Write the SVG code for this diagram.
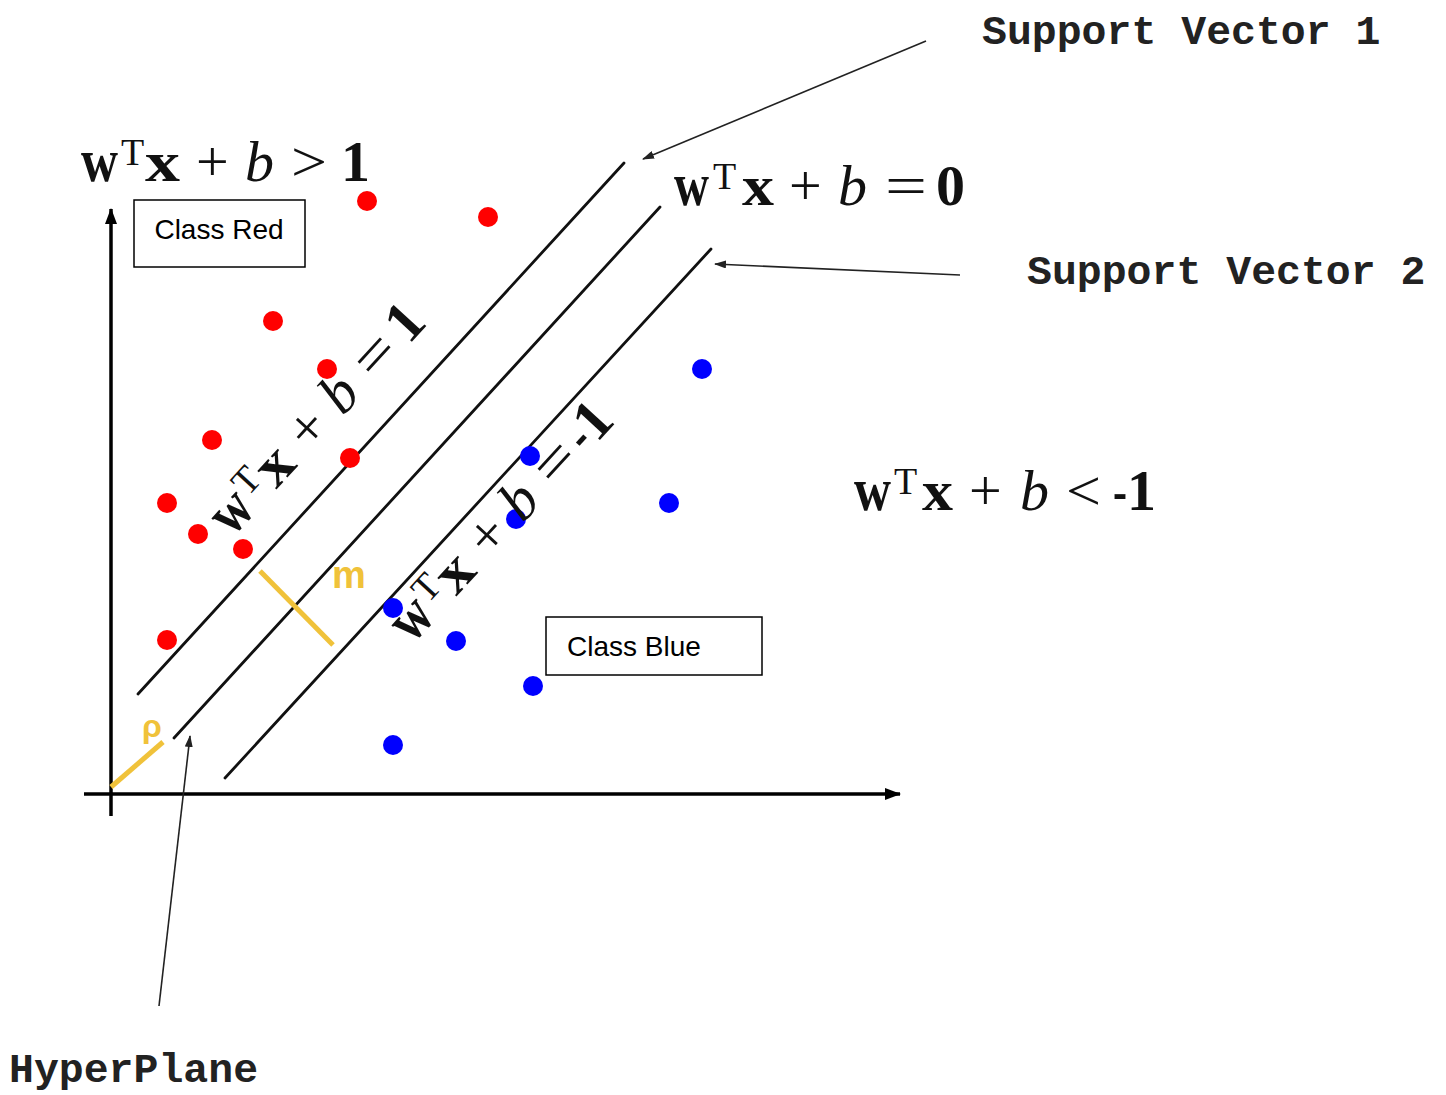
<svg xmlns="http://www.w3.org/2000/svg" width="1446" height="1095" viewBox="0 0 1446 1095">
  <style>
    .eq { font-family: "Liberation Serif", "Times New Roman", serif; font-size: 58px; fill: #111; }
    .bd { font-weight: bold; }
    .wd { font-size: 62px; }
    .it { font-style: italic; }
    .sup { font-size: 38px; }
    .mono { font-family: "Liberation Mono", "Courier New", monospace; font-size: 41.5px; font-weight: bold; fill: #222; }
    .box { fill: #fff; stroke: #000; stroke-width: 1.5; }
    .boxtxt { font-family: "Liberation Sans", Arial, sans-serif; font-size: 28px; fill: #000; text-anchor: middle; }
    .sep { stroke: #111; stroke-width: 2.8; fill: none; stroke-linecap: round; }
    .axis { stroke: #000; stroke-width: 3.5; fill: none; }
    .ann { stroke: #222; stroke-width: 1.6; fill: none; }
    .gold { stroke: #F0C23A; stroke-width: 5; fill: none; }
    .goldtxt { font-family: "Liberation Sans", Arial, sans-serif; font-weight: bold; fill: #F0C23A; }
    .red { fill: #FF0000; }
    .blue { fill: #0000FF; }
  </style>
  <defs>
    <marker id="axisArrow" viewBox="0 0 16 12" refX="15" refY="6" markerWidth="16" markerHeight="12" orient="auto" markerUnits="userSpaceOnUse">
      <path d="M0,0 L16,6 L0,12 Z" fill="#000"/>
    </marker>
    <marker id="annArrow" viewBox="0 0 12 8" refX="11" refY="4" markerWidth="12" markerHeight="8" orient="auto" markerUnits="userSpaceOnUse">
      <path d="M0,0 L12,4 L0,8 Z" fill="#222"/>
    </marker>
  </defs>

  <rect width="1446" height="1095" fill="#fff"/>

  <!-- axes -->
  <g id="axes">
    <line class="axis" x1="111" y1="816" x2="111" y2="209" marker-end="url(#axisArrow)"/>
    <line class="axis" x1="84" y1="794" x2="900" y2="794" marker-end="url(#axisArrow)"/>
  </g>

  <!-- separating lines -->
  <g id="lines">
    <line id="sv1-line" class="sep" x1="138" y1="694" x2="624" y2="163"/>
    <line id="hyperplane-line" class="sep" x1="174" y1="738" x2="660" y2="207"/>
    <line id="sv2-line" class="sep" x1="225" y1="778" x2="711" y2="249"/>
  </g>

  <!-- margin / offset markers -->
  <g id="margin">
    <line class="gold" x1="260" y1="571" x2="333" y2="645"/>
    <text class="goldtxt" x="332" y="588" font-size="38">m</text>
  </g>
  <g id="offset">
    <line class="gold" x1="111" y1="787" x2="163" y2="742"/>
    <text class="goldtxt" x="142" y="737" font-size="32">ρ</text>
  </g>

  <!-- data points -->
  <g id="class-red-points">
    <circle class="red" cx="367" cy="201" r="10"/>
    <circle class="red" cx="488" cy="217" r="10"/>
    <circle class="red" cx="273" cy="321" r="10"/>
    <circle class="red" cx="327" cy="369" r="10"/>
    <circle class="red" cx="212" cy="440" r="10"/>
    <circle class="red" cx="350" cy="458" r="10"/>
    <circle class="red" cx="167" cy="503" r="10"/>
    <circle class="red" cx="198" cy="534" r="10"/>
    <circle class="red" cx="243" cy="549" r="10"/>
    <circle class="red" cx="167" cy="640" r="10"/>
  </g>
  <g id="class-blue-points">
    <circle class="blue" cx="702" cy="369" r="10"/>
    <circle class="blue" cx="530" cy="456" r="10"/>
    <circle class="blue" cx="669" cy="503" r="10"/>
    <circle class="blue" cx="516" cy="519" r="10"/>
    <circle class="blue" cx="393" cy="608" r="10"/>
    <circle class="blue" cx="456" cy="641" r="10"/>
    <circle class="blue" cx="533" cy="686" r="10"/>
    <circle class="blue" cx="393" cy="745" r="10"/>
  </g>

  <!-- class boxes -->
  <g id="class-red">
    <rect class="box" x="134" y="200" width="171" height="67"/>
    <text class="boxtxt" x="219" y="239">Class Red</text>
  </g>
  <g id="class-blue">
    <rect class="box" x="546" y="617" width="216" height="58"/>
    <text class="boxtxt" x="634" y="656">Class Blue</text>
  </g>

  <!-- equations -->
  <g id="eq-red" transform="translate(82,181)">
    <text class="eq bd wd" x="-1" y="0" textLength="37" lengthAdjust="spacingAndGlyphs">w</text>
    <text class="eq sup" x="39" y="-16">T</text>
    <text class="eq bd" x="63" y="0" textLength="35" lengthAdjust="spacingAndGlyphs">x</text>
    <text class="eq" x="114" y="0">+</text>
    <text class="eq it" x="163" y="0">b</text>
    <text class="eq" x="209" y="0" textLength="36" lengthAdjust="spacingAndGlyphs">&gt;</text>
    <text class="eq bd" x="259" y="0">1</text>
  </g>
  <g id="eq-hyperplane" transform="translate(675,205)">
    <text class="eq bd wd" x="-1" y="0" textLength="35" lengthAdjust="spacingAndGlyphs">w</text>
    <text class="eq sup" x="38" y="-16">T</text>
    <text class="eq bd" x="67" y="0" textLength="32" lengthAdjust="spacingAndGlyphs">x</text>
    <text class="eq" x="114" y="0">+</text>
    <text class="eq it" x="163" y="0">b</text>
    <text class="eq" x="210" y="0" textLength="42" lengthAdjust="spacingAndGlyphs">=</text>
    <text class="eq bd" x="261" y="0">0</text>
  </g>
  <g id="eq-blue" transform="translate(855,510)">
    <text class="eq bd wd" x="-1" y="0" textLength="37" lengthAdjust="spacingAndGlyphs">w</text>
    <text class="eq sup" x="39" y="-16">T</text>
    <text class="eq bd" x="67" y="0" textLength="31" lengthAdjust="spacingAndGlyphs">x</text>
    <text class="eq" x="114" y="0">+</text>
    <text class="eq it" x="165" y="0">b</text>
    <text class="eq" x="211" y="0" textLength="35" lengthAdjust="spacingAndGlyphs">&lt;</text>
    <text class="eq bd" x="258" y="0" textLength="14" lengthAdjust="spacingAndGlyphs">-</text>
    <text class="eq bd" x="272" y="0">1</text>
  </g>
  <g id="eq-sv1" transform="translate(233,537) rotate(-47.5)">
    <text class="eq bd wd" x="-1" y="0" textLength="37" lengthAdjust="spacingAndGlyphs">w</text>
    <text class="eq sup" x="39" y="-16">T</text>
    <text class="eq bd" x="64" y="0" textLength="33" lengthAdjust="spacingAndGlyphs">x</text>
    <text class="eq" x="114" y="0">+</text>
    <text class="eq it" x="163" y="0">b</text>
    <text class="eq" x="210" y="0" textLength="40" lengthAdjust="spacingAndGlyphs">=</text>
    <text class="eq bd" x="260" y="0">1</text>
  </g>
  <g id="eq-sv2" transform="translate(413,644) rotate(-47.5)">
    <text class="eq bd wd" x="-1" y="0" textLength="37" lengthAdjust="spacingAndGlyphs">w</text>
    <text class="eq sup" x="39" y="-16">T</text>
    <text class="eq bd" x="64" y="0" textLength="33" lengthAdjust="spacingAndGlyphs">x</text>
    <text class="eq" x="114" y="0">+</text>
    <text class="eq it" x="163" y="0">b</text>
    <text class="eq" x="210" y="0" textLength="40" lengthAdjust="spacingAndGlyphs">=</text>
    <text class="eq bd" x="257" y="0" textLength="14" lengthAdjust="spacingAndGlyphs">-</text>
    <text class="eq bd" x="272" y="0">1</text>
  </g>

  <!-- annotation labels -->
  <g id="label-sv1">
    <text class="mono" x="982" y="44">Support Vector 1</text>
  </g>
  <g id="label-sv2">
    <text class="mono" x="1027" y="284">Support Vector 2</text>
  </g>
  <g id="label-hyperplane">
    <text class="mono" x="9" y="1082">HyperPlane</text>
  </g>

  <!-- connectors -->
  <g id="connectors">
    <line class="ann" x1="926" y1="41" x2="643" y2="159" marker-end="url(#annArrow)"/>
    <line class="ann" x1="960" y1="275" x2="715" y2="264" marker-end="url(#annArrow)"/>
    <line class="ann" x1="159" y1="1006" x2="190" y2="736" marker-end="url(#annArrow)"/>
  </g>
</svg>
